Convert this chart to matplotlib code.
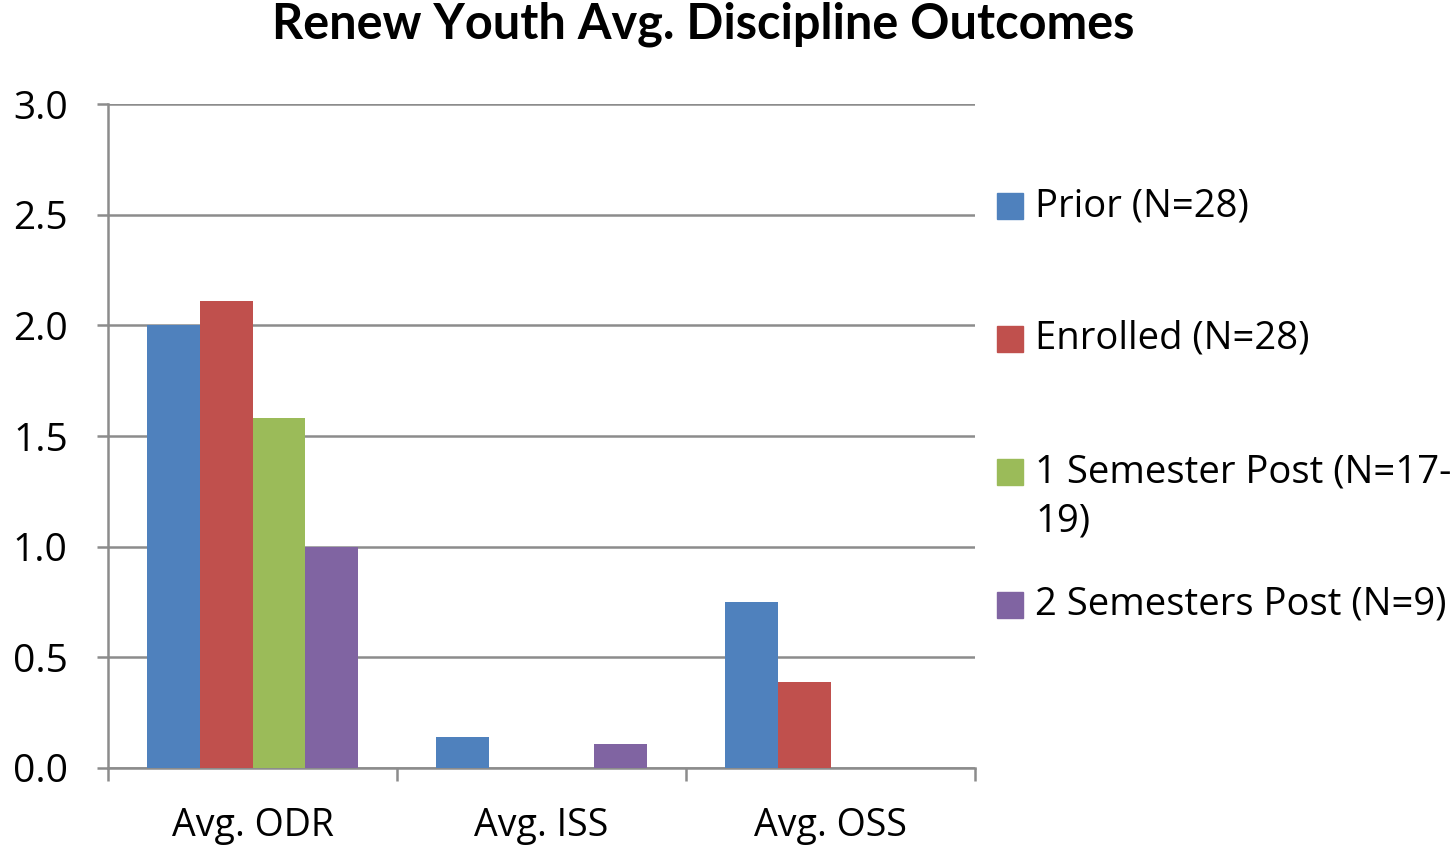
import numpy as np
import matplotlib
matplotlib.use("Agg")
import matplotlib.pyplot as plt
from matplotlib.patches import Rectangle

# Average discipline outcomes per student, by enrolment period
categories = ["Avg. ODR", "Avg. ISS", "Avg. OSS"]
series_names = ["Prior (N=28)", "Enrolled (N=28)",
                "1 Semester Post (N=17-\n19)", "2 Semesters Post (N=9)"]
prior = [2.00, 0.14, 0.75]
enrolled = [2.11, 0.00, 0.39]
one_sem_post = [1.58, 0.00, 0.00]
two_sem_post = [1.00, 0.11, 0.00]
yticks = [0.0, 0.5, 1.0, 1.5, 2.0, 2.5, 3.0]

colors = ["#4F81BD", "#C0504D", "#9BBB59", "#8064A2"]
grid_color = "#8C8C8C"

W, H = 1453, 850
fig = plt.figure(figsize=(W / 100, H / 100), dpi=100)
ax = fig.add_axes([108 / W, 1 - 768 / H, (975 - 108) / W, (768 - 104) / H])

x = np.arange(len(categories))
width = 0.183
all_series = [prior, enrolled, one_sem_post, two_sem_post]
for i, vals in enumerate(all_series):
    ax.bar(x + (i - 1.5) * width, vals, width, color=colors[i], zorder=3)

ax.set_xlim(-0.5, len(categories) - 0.5)
ax.set_ylim(0, 3.0)
ax.set_yticks(yticks)
ax.set_yticklabels([f"{v:.1f}" for v in yticks], fontsize=28, family="Open Sans")
ax.yaxis.grid(True, color=grid_color, linewidth=1.8, zorder=0)
ax.tick_params(axis="y", length=8, width=1.8, color=grid_color, pad=21)

ax.set_xticks(x)
ax.set_xticklabels(categories, fontsize=27, family="Open Sans")
ax.set_xticks(np.arange(len(categories) + 1) - 0.5, minor=True)
ax.tick_params(axis="x", which="major", length=0, pad=28)
ax.tick_params(axis="x", which="minor", length=9, width=1.8, color=grid_color)

for side in ["top", "right"]:
    ax.spines[side].set_visible(False)
for side in ["left", "bottom"]:
    ax.spines[side].set_color(grid_color)
    ax.spines[side].set_linewidth(1.8)

fig.text(703 / W, 1 - 24 / H, "Renew Youth Avg. Discipline Outcomes",
         ha="center", va="center", fontsize=35, fontweight="bold", family="Lato")

# legend drawn by hand so the wrapped entry keeps the even row spacing
legend_y = [206, 339, 472, 605]
for name, color, ly in zip(series_names, colors, legend_y):
    fig.add_artist(Rectangle((997 / W, 1 - (ly + 13) / H), 26 / W, 26 / H,
                             transform=fig.transFigure, color=color))
    fig.text(1035 / W, 1 - (ly - 19) / H, name, ha="left", va="top",
             fontsize=27.5, family="Open Sans", linespacing=1.38)

fig.savefig("out.png", dpi=100)
